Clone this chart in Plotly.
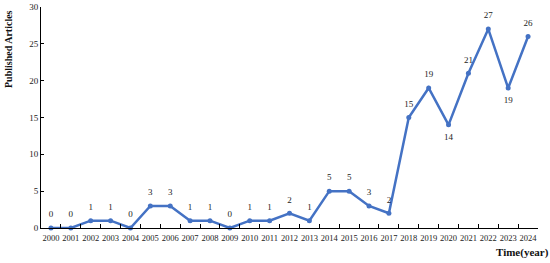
import plotly.graph_objects as go

years = [str(y) for y in range(2000, 2025)]
articles = [0, 0, 1, 1, 0, 3, 3, 1, 1, 0, 1, 1, 2, 1, 5, 5, 3, 2, 15, 19, 14, 21, 27, 19, 26]
below_years = ["2020", "2023"]

positions = ["bottom center" if y in below_years else "top center" for y in years]
blue = "#4472C4"

fig = go.Figure()
fig.add_trace(go.Scatter(
    x=years, y=articles,
    mode="lines+markers",
    line=dict(color=blue, width=2.5),
    marker=dict(color=blue, size=5),
    cliponaxis=False,
    showlegend=False,
))
# data labels (transparent larger markers to offset the text from the points)
fig.add_trace(go.Scatter(
    x=years, y=articles,
    mode="markers+text",
    text=[str(v) for v in articles],
    textposition=positions,
    textfont=dict(family="Liberation Serif", size=9, color="#222"),
    marker=dict(color="rgba(0,0,0,0)", size=12),
    cliponaxis=False,
    hoverinfo="skip",
    showlegend=False,
))

fig.update_layout(
    width=550, height=263,
    margin=dict(l=41, r=12, t=7, b=35, autoexpand=False),
    paper_bgcolor="white", plot_bgcolor="white",
    font=dict(family="Liberation Serif", size=9, color="#222"),
    xaxis=dict(
        type="category", tickson="boundaries", ticks="inside", ticklen=4,
        tickcolor="black", showline=True, linecolor="black", linewidth=1,
        showgrid=False, zeroline=False, range=[-0.5, 24.5],
        tickangle=0, automargin=False, ticklabelstandoff=2,
        tickfont=dict(family="Liberation Serif", size=8.5, color="#222"),
    ),
    yaxis=dict(
        range=[0, 30], dtick=5, ticks="inside", ticklen=3, tickcolor="black",
        showline=True, linecolor="black", linewidth=1, showgrid=False,
        zeroline=False, automargin=False,
        tickfont=dict(family="Liberation Serif", size=9, color="#222"),
    ),
    annotations=[
        dict(text="<b>Published Articles</b>", textangle=-90, x=8, y=49,
             xref="paper", yref="paper", showarrow=False,
             xanchor="center", yanchor="middle",
             font=dict(family="Liberation Serif", size=10, color="#111")),
        dict(text="<b>Time(year)</b>", x=522, y=252,
             xref="paper", yref="paper", showarrow=False,
             xanchor="center", yanchor="middle",
             font=dict(family="Liberation Serif", size=11, color="#111")),
    ],
)

# convert pixel coordinates of annotations to paper fractions
pw = 550 - 41 - 12
ph = 263 - 7 - 35
for a in fig.layout.annotations:
    px, py = a.x, a.y
    a.x = (px - 41) / pw
    a.y = (263 - 35 - py) / ph

fig.write_html("out.html", config={"displayModeBar": False},
               post_script="document.body.style.margin='0';")
